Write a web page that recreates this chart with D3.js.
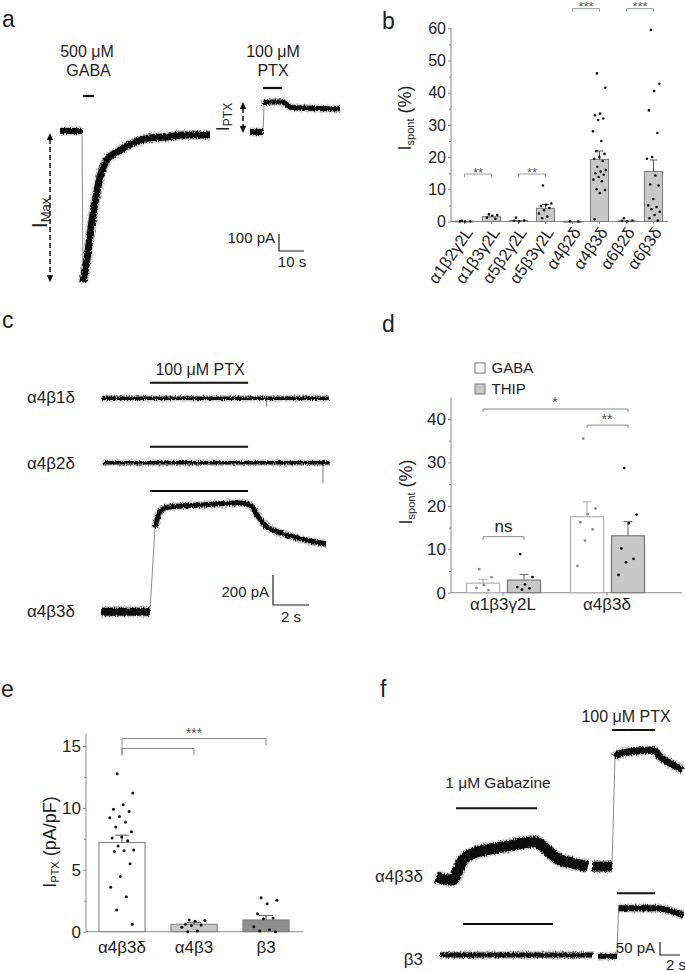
<!DOCTYPE html>
<html><head><meta charset="utf-8">
<script src="https://cdn.jsdelivr.net/npm/d3@7"></script>
<style>
body{margin:0;background:#fff}
svg{display:block;font-family:"Liberation Sans",Arial,sans-serif}
</style>
</head><body>
<svg id="fig" width="685" height="972"></svg>
<script>
// ================= DATA =================
// Panel a: recordings (time in s, current in pA)
const aGabaBase = [[0,0],[8.8,0]];
const aGabaResp = [[9.2,-890],[10.7,-760],[13.3,-482],[14.7,-365],[16,-271],[18.7,-171],[22.7,-124],[29.3,-71],[36,-41],[42.7,-35],[49.3,-24],[60,-24]];
const aPtxBase = [[76,-6],[81.2,-6]];
const aPtxResp = [[81.6,150],[82.2,168],[85,171],[89,170],[90.5,158],[92.5,138],[100,134],[112,131]];
const aGabaBar = [9.2,13.6];
const aPtxBar = [81.2,88.8];
const aScale = {pA:100, s:10};

// Panel b
const bCats = ["α1β2γ2L","α1β3γ2L","α5β2γ2L","α5β3γ2L","α4β2δ","α4β3δ","α6β2δ","α6β3δ"];
const bMeans = [0.1,1.5,0.3,4.1,0.05,19.3,0.2,15.5];
const bSem = [0.05,0.3,0.2,1.2,0.02,2.6,0.1,3.6];
const bPoints = [
  [0.2,0.1,0.0,0.1],
  [2.2,2.0,1.8,1.2,0.8],
  [1.2,0.3,0.1,0.2],
  [11.2,5.6,5.2,4.8,4.2,3.5,2.5,1.5,1.0],
  [0.1,0.0],
  [46,41.5,33.5,33,32,31.5,28,25,21.8,21,20,19.5,18.8,17,16,15.5,15,14.5,13.8,13,12.5,10,9.8,8.8,0.7],
  [1.0,0.3,0.1,0.2],
  [59.5,42.8,40.5,34.5,27.5,20,19.5,14.3,11.5,11.2,7,5,4.5,3.8,3,2,1,0.3]
];
const bTicks = [0,10,20,30,40,50,60];
const bMinor = [5,15,25,35,45,55];
const bSig = [[0,1,"**",14.75],[2,3,"**",14.75],[4,5,"***",66.1],[6,7,"***",66.1]];

// Panel c
const cRows = ["α4β1δ","α4β2δ","α4β3δ"];
const c1Trace = [[0.04,0],[12.66,0]];
const c2Trace = [[0.1,0],[12.72,0]];
const c3Base = [[0,0],[2.72,0]];
const c3Resp = [[3.0,560],[3.3,672],[3.8,698],[5.5,711],[7.7,725],[8.3,711],[8.7,640],[9.1,578],[9.7,538],[10.5,505],[11.6,471],[12.5,451]];
const cSpikes = [[0,9.2,-55],[1,12.33,-135]];
const cPtxBar = [2.72,8.17];
const cScale = {pA:200, s:2};

// Panel d
const dGroups = ["α1β3γ2L","α4β3δ"];
const dConds = ["GABA","THIP"];
const dGabaMean = [2.2,17.5];
const dGabaSem = [0.9,3.4];
const dThipMean = [2.9,13.1];
const dThipSem = [1.3,3.3];
const dGabaPts = [[5.4,3.6,1.8,1.1,0.6],[35.5,19.4,18.1,16.2,14.6,12.0,6.2]];
const dThipPts = [[8.9,3.6,1.9,1.3,1.0,0.7],[28.7,18.0,16.0,10.2,7.8,7.0,4.1]];
const dTicks = [0,10,20,30,40];
const dMinor = [5,15,25,35];

// Panel e
const eCats = ["α4β3δ","α4β3","β3"];
const eMeans = [7.2,0.6,0.95];
const eSem = [0.6,0.13,0.35];
const ePoints = [
  [12.76,11.2,10.25,9.9,9.7,9.3,9.2,8.85,8.45,8.07,7.64,7.56,7.34,6.93,6.6,6.53,6.47,5.48,4.45,3.59,2.83,1.75,0.6],
  [0.95,0.9,0.85,0.6,0.55,0.5,0.35,0.05,0.0],
  [2.75,2.55,2.25,1.45,1.1,1.05,0.4,0.15,0.05,0.0]
];
const eTicks = [0,5,10,15];
const eMinor = [2.5,7.5,12.5];

// Panel f
const fRows = ["α4β3δ","β3"];
const fA1 = [[0,0],[1.6,-12],[2.7,65],[3.7,91],[5.4,107],[7.1,119],[8.7,130],[9.9,136],[11.1,104],[12.1,72],[13.7,53],[15.2,40]];
const fA2Base = [[15.6,40],[17.6,40]];
const fA2Resp = [[17.9,462],[18.1,469],[19.4,482],[21.7,488],[22.4,463],[23.7,431],[24.7,412]];
const fB1 = [[0.4,0],[15.7,0]];
const fB2Base = [[16.2,-5],[18.1,-5]];
const fB2Resp = [[18.25,180],[22.1,180],[23.7,167],[24.7,154]];
const fGabazineBars = [[2.0,10.1],[2.7,11.7]];
const fPtxBars = [[17.6,21.9],[18.1,21.9]];
const fScale = {pA:50, s:2};

// ================= DRAWING =================
const svg = d3.select("#fig");
svg.append("rect").attr("width",685).attr("height",972).attr("fill","#fff");
const defs = svg.append("defs");
const flt = defs.append("filter").attr("id","rough").attr("filterUnits","userSpaceOnUse")
  .attr("x",0).attr("y",0).attr("width",685).attr("height",972);
flt.append("feTurbulence").attr("type","fractalNoise").attr("baseFrequency","0.9 0.4").attr("numOctaves",2).attr("seed",4).attr("result","n");
flt.append("feDisplacementMap").attr("in","SourceGraphic").attr("in2","n").attr("scale",4).attr("xChannelSelector","R").attr("yChannelSelector","G");

const AX = "#8a8a8a", TXT = "#1e1e1e";

function text(x,y,str,size,anchor="start",fill=TXT){
  return svg.append("text").attr("x",x).attr("y",y).attr("font-size",size).attr("text-anchor",anchor).attr("fill",fill).text(str);
}
function hline(x1,x2,y,w=2,c="#111"){
  svg.append("line").attr("x1",x1).attr("x2",x2).attr("y1",y).attr("y2",y).attr("stroke",c).attr("stroke-width",w);
}
function vline(x,y1,y2,w=1,c="#111"){
  svg.append("line").attr("x1",x).attr("x2",x).attr("y1",y1).attr("y2",y2).attr("stroke",c).attr("stroke-width",w);
}
function trace(pts,xs,ys,w){
  const line = d3.line().x(d=>xs(d[0])).y(d=>ys(d[1])).curve(d3.curveMonotoneX);
  svg.append("path").attr("d",line(pts)).attr("fill","none").attr("stroke","#9a9a9a")
    .attr("stroke-opacity",0.55).attr("stroke-width",w+3).attr("stroke-linejoin","round").attr("filter","url(#rough)");
  svg.append("path").attr("d",line(pts)).attr("fill","none").attr("stroke","#101010")
    .attr("stroke-width",w).attr("stroke-linejoin","round").attr("filter","url(#rough)");
}
function connector(p,q,xs,ys){
  svg.append("line").attr("x1",xs(p[0])).attr("y1",ys(p[1])).attr("x2",xs(q[0])).attr("y2",ys(q[1]))
    .attr("stroke","#8c8c8c").attr("stroke-width",1);
}
function rotLabel(x,y,main,sub,rest,size,subSize){
  const t = svg.append("text").attr("transform",`translate(${x},${y}) rotate(-90)`)
    .attr("text-anchor","middle").attr("font-size",size).attr("fill",TXT);
  t.append("tspan").text(main);
  t.append("tspan").attr("font-size",subSize).attr("dy",3).text(sub);
  if(rest) t.append("tspan").attr("dy",-3).text(rest);
}
function arrow(x,y1,y2){
  svg.append("line").attr("x1",x).attr("x2",x).attr("y1",y1+6).attr("y2",y2-6)
    .attr("stroke","#111").attr("stroke-width",1.5).attr("stroke-dasharray","5,3");
  svg.append("path").attr("d",`M${x},${y1} L${x-3.2},${y1+7} L${x+3.2},${y1+7} Z`).attr("fill","#111");
  svg.append("path").attr("d",`M${x},${y2} L${x-3.2},${y2-7} L${x+3.2},${y2-7} Z`).attr("fill","#111");
}
function yAxis(xPos,y,major,minor,size,top){
  const g = svg.append("g").attr("transform",`translate(${xPos},0)`)
    .call(d3.axisLeft(y).tickValues(major).tickSize(3).tickPadding(2).tickSizeOuter(0));
  g.select(".domain").remove();
  g.selectAll("line").attr("stroke",AX);
  g.selectAll("text").attr("font-size",size).attr("fill",TXT).attr("font-family",'"Liberation Sans",Arial,sans-serif');
  const g2 = svg.append("g").attr("transform",`translate(${xPos},0)`)
    .call(d3.axisLeft(y).tickValues(minor).tickSize(2).tickFormat("").tickSizeOuter(0));
  g2.select(".domain").remove();
  g2.selectAll("line").attr("stroke",AX);
  vline(xPos,y(0),y(top),1,AX);
}
function bracket(x1,x2,yv,tl,tr,c="#8a8a8a"){
  svg.append("path").attr("d",`M${x1},${yv+tl} V${yv} H${x2} V${yv+tr}`).attr("fill","none").attr("stroke",c).attr("stroke-width",1);
}
function jit(i){ return ((i*0.618034+0.31)%1)-0.5; }

// ---------- panel a ----------
text(2,27,"a",23);
{
  const xs = d3.scaleLinear().domain([0,10]).range([60,85]);
  const ys = d3.scaleLinear().domain([0,100]).range([131,114]);
  text(87,57,"500 μM",16,"middle"); text(88.5,76,"GABA",16,"middle");
  text(273,57,"100 μM",16,"middle"); text(273,76,"PTX",16,"middle");
  hline(xs(aGabaBar[0]),xs(aGabaBar[1]),96,2.2);
  hline(xs(aPtxBar[0]),xs(aPtxBar[1]),88,2.2);
  connector(aGabaBase[aGabaBase.length-1],aGabaResp[0],xs,ys);
  connector(aPtxBase[aPtxBase.length-1],aPtxResp[0],xs,ys);
  trace(aGabaBase,xs,ys,6);
  trace(aGabaResp,xs,ys,7);
  trace(aPtxBase,xs,ys,6);
  trace(aPtxResp,xs,ys,5);
  arrow(50,ys(0)+2,ys(-890));
  arrow(243,ys(170),ys(-6)+1);
  rotLabel(46.5,213,"I","Max",null,22,13);
  rotLabel(229,117,"I","PTX",null,18,12);
  const sx = 279, sy = 251;
  svg.append("path").attr("d",`M${sx},${sy-(ys(0)-ys(aScale.pA))} V${sy} H${sx+(xs(aScale.s)-xs(0))}`).attr("fill","none").attr("stroke","#222").attr("stroke-width",1.2);
  text(275,243,"100 pA",15,"end");
  text(292,267,"10 s",15,"middle");
}

// ---------- panel b ----------
text(382,29,"b",23);
{
  const y = d3.scaleLinear().domain([0,60]).range([221.5,28.3]);
  const x = d3.scaleBand().domain(bCats).range([451,667]).paddingInner(0.33).paddingOuter(0.165);
  yAxis(451,y,bTicks,bMinor,16,60);
  hline(451,668,y(0),1,AX);
  bCats.forEach((c,i)=>{
    const xc = x(c)+x.bandwidth()/2;
    vline(xc,y(0),y(0)+2.5,1,AX);
    svg.append("rect").attr("x",x(c)).attr("y",y(bMeans[i])).attr("width",x.bandwidth()).attr("height",Math.max(0.8,y(0)-y(bMeans[i])))
      .attr("fill","#c8c8c8").attr("stroke","#7a7a7a").attr("stroke-width",1);
    if(bSem[i]>0.5){
      vline(xc,y(bMeans[i]),y(bMeans[i]+bSem[i]),1,"#555");
      hline(xc-3.5,xc+3.5,y(bMeans[i]+bSem[i]),1,"#555");
    }
    bPoints[i].forEach((v,j)=>{
      svg.append("circle").attr("cx",xc+jit(j)*x.bandwidth()*0.75).attr("cy",y(v)).attr("r",1.3).attr("fill","#111");
    });
    svg.append("text").attr("transform",`translate(${xc+9},${y(0)+11}) rotate(-55)`)
      .attr("text-anchor","end").attr("font-size",16.5).attr("fill",TXT).text(c);
  });
  bSig.forEach(([a,b,lab,lv])=>{
    const x1 = x(bCats[a])+x.bandwidth()/2, x2 = x(bCats[b])+x.bandwidth()/2;
    bracket(x1,x2,y(lv),3,3,"#999");
    text((x1+x2)/2,y(lv)+2.5,lab,13,"middle","#555");
  });
  rotLabel(411,118,"I","spont"," (%)",18,11);
}

// ---------- panel c ----------
text(2,328,"c",23);
{
  const xs = d3.scaleLinear().domain([0,2]).range([101,137]);
  const base = [398.3,462.7,611.7];
  const ysF = b => d3.scaleLinear().domain([0,200]).range([b,b-30]);
  text(200,375,"100 μM PTX",16,"middle");
  [382.7,446.7,491].forEach(yy=>hline(xs(cPtxBar[0]),xs(cPtxBar[1]),yy,2));
  cRows.forEach((r,i)=>text(27,[403,469,617][i],r,17));
  cSpikes.forEach(([row,t,amp])=>{
    const ys = ysF(base[row]);
    vline(xs(t),ys(0),ys(amp),1,"#777");
  });
  trace(c1Trace,xs,ysF(base[0]),3.5);
  trace(c2Trace,xs,ysF(base[1]),3.5);
  const ys3 = ysF(base[2]);
  connector(c3Base[c3Base.length-1],c3Resp[0],xs,ys3);
  trace(c3Base,xs,ys3,8);
  trace(c3Resp,xs,ys3,5);
  const sx=273, sy=605;
  svg.append("path").attr("d",`M${sx},${sy-30} V${sy} H${sx+(xs(cScale.s)-xs(0))}`).attr("fill","none").attr("stroke","#222").attr("stroke-width",1.2);
  text(269,597,"200 pA",15,"end");
  text(291,622,"2 s",15,"middle");
}

// ---------- panel d ----------
text(382,332,"d",23);
{
  const y = d3.scaleLinear().domain([0,40]).range([592.7,419]);
  const x0 = d3.scaleBand().domain(dGroups).range([451,659]);
  const x1 = d3.scaleBand().domain(dConds).range([15.5,89.5]).paddingInner(0.195);
  yAxis(451,y,dTicks,dMinor,17,45);
  hline(451,682,y(0),1,AX);
  const means = {GABA:dGabaMean, THIP:dThipMean};
  const sems = {GABA:dGabaSem, THIP:dThipSem};
  const pts = {GABA:dGabaPts, THIP:dThipPts};
  const fills = {GABA:"#ffffff", THIP:"#c8c8c8"};
  const dotc = {GABA:"#8a8a8a", THIP:"#111"};
  const center = (g,c)=>x0(g)+x1(c)+x1.bandwidth()/2;
  dGroups.forEach((g,gi)=>{
    vline(x0(g)+x0.bandwidth()/2,y(0),y(0)+3,1,AX);
    dConds.forEach(c=>{
      const m = means[c][gi], s = sems[c][gi], xc = center(g,c);
      svg.append("rect").attr("x",x0(g)+x1(c)).attr("y",y(m)).attr("width",x1.bandwidth()).attr("height",y(0)-y(m))
        .attr("fill",fills[c]).attr("stroke",c==="GABA"?"#b0b0b0":"#7a7a7a").attr("stroke-width",1.2);
      vline(xc,y(m),y(m+s),1,c==="GABA"?"#aaa":"#666");
      hline(xc-4.5,xc+4.5,y(m+s),1,c==="GABA"?"#aaa":"#666");
      pts[c][gi].forEach((v,j)=>{
        svg.append("circle").attr("cx",xc+jit(j)*x1.bandwidth()*0.6).attr("cy",y(v)).attr("r",1.4).attr("fill",dotc[c]);
      });
    });
    text(x0(g)+x0.bandwidth()/2,610,g,17,"middle");
  });
  bracket(center(dGroups[0],"GABA"),center(dGroups[1],"THIP"),y(42.3),3,3);
  text(555,407,"*",14,"middle","#555");
  bracket(center(dGroups[1],"GABA"),center(dGroups[1],"THIP"),y(38.6),3,3);
  text(607,424,"**",14,"middle","#555");
  bracket(center(dGroups[0],"GABA"),center(dGroups[0],"THIP"),y(12.9),3.5,3.5);
  text(503.5,531.5,"ns",17,"middle");
  svg.append("rect").attr("x",475).attr("y",363).attr("width",10).attr("height",10).attr("fill","#fff").attr("stroke","#777");
  svg.append("rect").attr("x",475).attr("y",384).attr("width",10).attr("height",10).attr("fill","#c8c8c8").attr("stroke","#777");
  text(491.5,373,dConds[0],15); text(491.5,394,dConds[1],15);
  rotLabel(412,492,"I","spont"," (%)",18,11);
}

// ---------- panel e ----------
text(1,697,"e",23);
{
  const y = d3.scaleLinear().domain([0,15]).range([931.7,746]);
  const x = d3.scaleBand().domain(eCats).range([86,302]).paddingInner(0.36).paddingOuter(0.18);
  const fills = ["#ffffff","#c8c8c8","#8e8e8e"];
  yAxis(86,y,eTicks,eMinor,17,16);
  hline(86,303,y(0),1,AX);
  eCats.forEach((c,i)=>{
    const xc = x(c)+x.bandwidth()/2;
    svg.append("rect").attr("x",x(c)).attr("y",y(eMeans[i])).attr("width",x.bandwidth()).attr("height",y(0)-y(eMeans[i]))
      .attr("fill",fills[i]).attr("stroke","#7a7a7a").attr("stroke-width",1);
    vline(xc,y(eMeans[i]),y(eMeans[i]+eSem[i]),1,"#555");
    hline(xc-7,xc+7,y(eMeans[i]+eSem[i]),1,"#555");
    ePoints[i].forEach((v,j)=>{
      svg.append("circle").attr("cx",xc+jit(j)*x.bandwidth()*0.55).attr("cy",y(v)).attr("r",1.5).attr("fill","#111");
    });
    text(xc,953,c,17,"middle");
  });
  const c0 = x(eCats[0])+x.bandwidth()/2, c1 = x(eCats[1])+x.bandwidth()/2, c2 = x(eCats[2])+x.bandwidth()/2;
  bracket(c0,c2,y(15.6),16,7);
  bracket(c0,c1,y(14.8),7,7);
  text((c0+c2)/2,738,"***",14,"middle","#555");
  rotLabel(56,842,"I","PTX"," (pA/pF)",18,11);
}

// ---------- panel f ----------
text(380,697,"f",23);
{
  const xs = d3.scaleLinear().domain([0,2]).range([436,456]);
  const ysA = d3.scaleLinear().domain([0,50]).range([877,864]);
  const ysB = d3.scaleLinear().domain([0,50]).range([955,942]);
  text(626,722,"100 μM PTX",16,"middle");
  text(498,788,"1 μM Gabazine",15.5,"middle");
  hline(xs(fGabazineBars[0][0]),xs(fGabazineBars[0][1]),808.3,2);
  hline(xs(fGabazineBars[1][0]),xs(fGabazineBars[1][1]),924,2);
  hline(xs(fPtxBars[0][0]),xs(fPtxBars[0][1]),730,2);
  hline(xs(fPtxBars[1][0]),xs(fPtxBars[1][1]),893.3,2);
  connector(fA2Base[fA2Base.length-1],fA2Resp[0],xs,ysA);
  connector(fB2Base[fB2Base.length-1],fB2Resp[0],xs,ysB);
  trace(fA1,xs,ysA,11);
  trace(fA2Base,xs,ysA,10);
  trace(fA2Resp,xs,ysA,7);
  trace(fB1,xs,ysB,5);
  trace(fB2Base,xs,ysB,5);
  trace(fB2Resp,xs,ysB,6);
  text(423,882,fRows[0],17,"end");
  text(423,965,fRows[1],17,"end");
  const sx=660, sy=955;
  svg.append("path").attr("d",`M${sx},${sy-13} V${sy} H${sx+(xs(fScale.s)-xs(0))}`).attr("fill","none").attr("stroke","#222").attr("stroke-width",1.2);
  text(655,953,"50 pA",15,"end");
  text(676,970,"2 s",15,"middle");
}
</script>
</body></html>
